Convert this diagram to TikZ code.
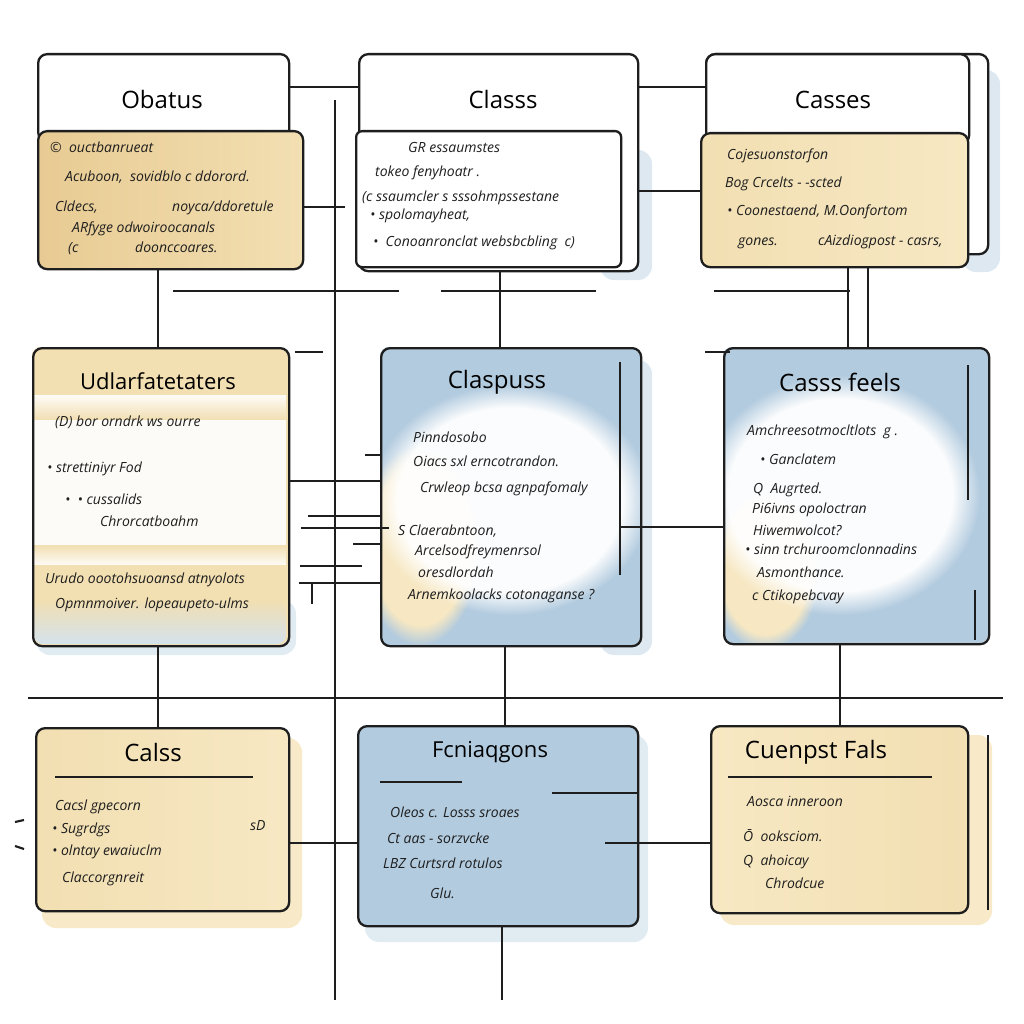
\documentclass[tikz,border=0pt]{standalone}
\usepackage{fontspec}
\setmainfont{Open Sans}
\usetikzlibrary{fadings}

\definecolor{ink}{RGB}{30,30,30}
\definecolor{tandeep}{RGB}{232,203,147}
\definecolor{tanbox}{RGB}{242,223,178}
\definecolor{creambox}{RGB}{247,232,195}
\definecolor{skybox}{RGB}{178,203,223}
\definecolor{skypale}{RGB}{212,226,237}

\tikzset{
  card/.style={draw=ink, line width=2.3pt, rounded corners=9pt, inner sep=0pt, anchor=north west},
  title/.style={font=\fontsize{24}{28}\selectfont, text=black},
  txt/.style={font=\fontsize{14}{16}\selectfont\itshape, text=ink, anchor=base west, inner sep=0pt},
  wash/.style={path fading=circle with fuzzy edge 20 percent},
}

\begin{document}
\begin{tikzpicture}[x=1pt, y=-1pt]
  \useasboundingbox (0,0) rectangle (1024,1024);

  % watercolour washes
  \begin{scope}[rounded corners=14pt]
    \fill[skypale, opacity=.8] (600,150) rectangle (652,280);
    \fill[skypale, opacity=.8] (962,70) rectangle (1000,272);
    \fill[skypale, opacity=.7] (36,600) rectangle (296,655);
    \fill[skypale, opacity=.8] (600,360) rectangle (652,655);
    \fill[skypale, opacity=.7] (365,735) rectangle (648,942);
    \fill[creambox, opacity=.9] (42,738) rectangle (302,928);
    \fill[creambox, opacity=.9] (720,735) rectangle (992,925);
  \end{scope}

  % top row
  \node[card, fill=white, minimum width=251pt, minimum height=87pt] (obatusT) at (37,53) {};
  \node[card, left color=tandeep, right color=tanbox, minimum width=265pt, minimum height=138pt] (obatusB) at (37,130) {};
  \node[title] (obatusN) at (162,100) {Obatus};

  \node[card, fill=white, minimum width=279pt, minimum height=217pt] (classs) at (358,53) {};
  \node[card, fill=white, rounded corners=6pt, minimum width=265pt, minimum height=136pt] (classsB) at (355,130) {};
  \node[title] (classsN) at (503,100) {Classs};

  \node[card, fill=white, minimum width=282pt, minimum height=200pt] (cassesK) at (705,53) {};
  \node[card, fill=white, minimum width=263pt, minimum height=90pt] (cassesT) at (705,53) {};
  \node[card, left color=tanbox, right color=creambox, minimum width=267pt, minimum height=134pt] (cassesB) at (700,132) {};
  \node[title] (cassesN) at (833,100) {Casses};

  % middle row
  \fill[tanbox, rounded corners=9pt] (32,347) rectangle (288,645);
  \fill[white, opacity=.9, path fading=south] (34,395) rectangle (286,420);
  \fill[white, opacity=.9] (34,420) rectangle (286,545);
  \fill[white, opacity=.9, path fading=north] (34,545) rectangle (286,565);
  \fill[skypale, rounded corners=9pt, path fading=north] (34,600) rectangle (286,644);
  \node[card, minimum width=256pt, minimum height=298pt] (udlar) at (32,347) {};
  \node[title, font=\fontsize{22}{26}\selectfont] (udlarN) at (158,381) {Udlarfatetaters};

  \begin{scope}
    \clip[rounded corners=9pt] (380,347) rectangle (640,645);
    \fill[skybox] (380,347) rectangle (640,645);
    \fill[creambox, wash] (420,545) ellipse [x radius=60, y radius=100];
    \fill[white, opacity=.95, wash] (510,500) ellipse [x radius=140, y radius=115];
  \end{scope}
  \node[card, minimum width=260pt, minimum height=298pt] (claspuss) at (380,347) {};
  \node[title] (claspussN) at (497,382) {Claspuss};

  \begin{scope}
    \clip[rounded corners=9pt] (723,347) rectangle (988,643);
    \fill[skybox] (723,347) rectangle (988,643);
    \fill[creambox, wash] (765,570) ellipse [x radius=55, y radius=80];
    \fill[white, opacity=.95, wash] (840,495) ellipse [x radius=140, y radius=120];
  \end{scope}
  \node[card, minimum width=265pt, minimum height=296pt] (cassfeels) at (723,347) {};
  \node[title] (cassfeelsN) at (840,382) {Casss feels};

  % bottom row
  \node[card, left color=tanbox, right color=creambox, minimum width=253pt, minimum height=183pt] (calss) at (35,727) {};
  \node[title] (calssN) at (153,752) {Calss};

  \node[card, fill=skybox, minimum width=280pt, minimum height=200pt] (fcnia) at (357,725) {};
  \node[title, font=\fontsize{22}{26}\selectfont] (fcniaN) at (490,752) {Fcniaqgons};

  \node[card, left color=creambox, right color=tanbox, minimum width=257pt, minimum height=187pt] (cuenpst) at (710,725) {};
  \node[title] (cuenpstN) at (816,752) {Cuenpst Fals};

  % card texts
  \begin{scope}[every node/.style={txt}]
    \node (a1) at (50,153) {©\ \ ouctbanrueat};
    \node (a2) at (65,182) {Acuboon,\ \ sovidblo c ddorord.};
    \node (a3) at (55,212) {Cldecs,};
    \node (a4) at (172,212) {noyca/ddoretule};
    \node (a5) at (72,233) {ARfyge odwoiroocanals};
    \node (a6) at (68,252) {(c};
    \node (a7) at (135,252) {doonccoares.};

    \node (b1) at (408,153) {GR essaumstes};
    \node (b2) at (375,177) {tokeo fenyhoatr .};
    \node (b3) at (362,202) {(c ssaumcler s sssohmpssestane};
    \node (b4) at (370,220) {• spolomayheat,};
    \node (b5) at (373,247) {•\ \ Conoanronclat websbcbling\ \ c)};

    \node (c1) at (727,160) {Cojesuonstorfon};
    \node (c2) at (725,188) {Bog Crcelts - -scted};
    \node (c3) at (727,215) {• Coonestaend, M.Oonfortom};
    \node (c4) at (738,245) {gones.};
    \node (c5) at (818,245) {cAizdiogpost - casrs,};

    \node (d1) at (55,426) {(D) bor orndrk ws ourre};
    \node (d2) at (47,472) {• strettiniyr Fod};
    \node (d3) at (65,504) {•\ \ • cussalids};
    \node (d4) at (100,526) {Chrorcatboahm};
    \node (d5) at (45,583) {Urudo oootohsuoansd atnyolots};
    \node (d6) at (55,608) {Opmnmoiver. lopeaupeto-ulms};

    \node (e1) at (413,442) {Pinndosobo};
    \node (e2) at (413,466) {Oiacs sxl erncotrandon.};
    \node (e3) at (420,492) {Crwleop bcsa agnpafomaly};
    \node (e4) at (398,535) {S Claerabntoon,};
    \node (e5) at (415,555) {Arcelsodfreymenrsol};
    \node (e6) at (418,577) {oresdlordah};
    \node (e7) at (408,599) {Arnemkoolacks cotonaganse ?};

    \node (f1) at (747,435) {Amchreesotmocltlots\ \ g .};
    \node (f2) at (760,464) {• Ganclatem};
    \node (f3) at (753,493) {Q\ \ Augrted.};
    \node (f4) at (752,513) {Pi6ivns opoloctran};
    \node (f5) at (753,535) {Hiwemwolcot?};
    \node (f6) at (745,554) {• sinn trchuroomclonnadins};
    \node (f7) at (757,577) {Asmonthance.};
    \node (f8) at (752,600) {c Ctikopebcvay};

    \node (g1) at (55,810) {Cacsl gpecorn};
    \node (g2) at (52,833) {• Sugrdgs};
    \node (g3) at (52,855) {• olntay ewaiuclm};
    \node (g4) at (62,882) {Claccorgnreit};
    \node (g5) at (250,830) {sD};

    \node (h1) at (390,817) {Oleos c. Losss sroaes};
    \node (h2) at (387,843) {Ct aas - sorzvcke};
    \node (h3) at (383,868) {LBZ Curtsrd rotulos};
    \node (h4) at (430,898) {Glu.};

    \node (i1) at (747,806) {Aosca inneroon};
    \node (i2) at (743,841) {Ō\ \ ooksciom.};
    \node (i3) at (743,865) {Q\ \ ahoicay};
    \node (i4) at (765,888) {Chrodcue};
  \end{scope}

  % rails and ticks
  \coordinate (y87)  at (0,87);
  \coordinate (y191) at (0,191);
  \coordinate (y207) at (0,207);
  \coordinate (y455) at (0,455);
  \coordinate (y481) at (0,481);
  \coordinate (y516) at (0,516);
  \coordinate (y527) at (0,527);
  \coordinate (y544) at (0,544);
  \coordinate (y583) at (0,583);
  \coordinate (y793) at (0,793);
  \coordinate (y843) at (0,843);
  \coordinate (x158) at (158,0);
  \coordinate (x500) at (500,0);
  \coordinate (x505) at (505,0);
  \coordinate (x840) at (840,0);
  \coordinate (x848) at (848,0);
  \coordinate (x868) at (868,0);
  \coordinate (spineTop) at (335,100);
  \coordinate (spineBot) at (335,1000);
  \coordinate (tailBot)  at (502,1000);
  \coordinate (railW)    at (28,698);
  \coordinate (railE)    at (1003,698);

  \begin{scope}[every edge/.style={draw=ink, line width=2.1pt}]
    \path (obatusT.east |- y87)  edge (classs.west |- y87);
    \path (classs.east |- y87)   edge (cassesT.west |- y87);
    \path (classs.east |- y191)  edge (cassesB.west |- y191);
    \path (obatusB.east |- y207) edge ++(41,0);
    \path (spineTop) edge (spineBot);

    \path (obatusB.south -| x158) edge (udlar.north -| x158);
    \path (classs.south -| x500)  edge (claspuss.north -| x500);
    \path (cassesB.south -| x848) edge (cassfeels.north -| x848);
    \path (cassesB.south -| x868) edge (cassfeels.north -| x868);

    \path (173,291) edge (399,291);
    \path (441,291) edge (596,291);
    \path (714,291) edge (850,291);
    \path (295,352) edge (323,352);
    \path (705,352) edge (730,352);

    \path (claspuss.west |- y455) edge ++(-15,0);
    \path (udlar.east |- y481)    edge (claspuss.west |- y481);
    \path (claspuss.west |- y516) edge ++(-72,0);
    \path (389,528) edge (301,528);
    \path (claspuss.west |- y544) edge ++(-27,0);
    \path (300,566) edge (362,566);
    \path (claspuss.west |- y583) edge ++(-81,0);
    \path (312,583) edge (312,604);
    \path (620,527) edge (cassfeels.west |- y527);

    \path (udlar.south -| x158)     edge (calss.north -| x158);
    \path (claspuss.south -| x505)  edge (fcnia.north -| x505);
    \path (cassfeels.south -| x840) edge (cuenpst.north -| x840);
    \path (railW) edge (railE);

    \path (calss.east |- y843) edge (fcnia.west |- y843);
    \path (605,843) edge (cuenpst.west |- y843);
    \path (552,793) edge (fcnia.east |- y793);
    \path (380,782) edge (462,782);
    \path (fcnia.south -| tailBot) edge (tailBot);

    % dividers and sketchy second strokes
    \path (55,777) edge (253,777);
    \path (728,777) edge (932,777);
    \path (620,362) edge (620,575);
    \path (968,365) edge (968,500);
    \path (975,590) edge (975,640);
    \path (988,735) edge (988,910);
    \path (15,822) edge (24,820);
    \path (15,846) edge (24,849);
  \end{scope}
\end{tikzpicture}
\end{document}
